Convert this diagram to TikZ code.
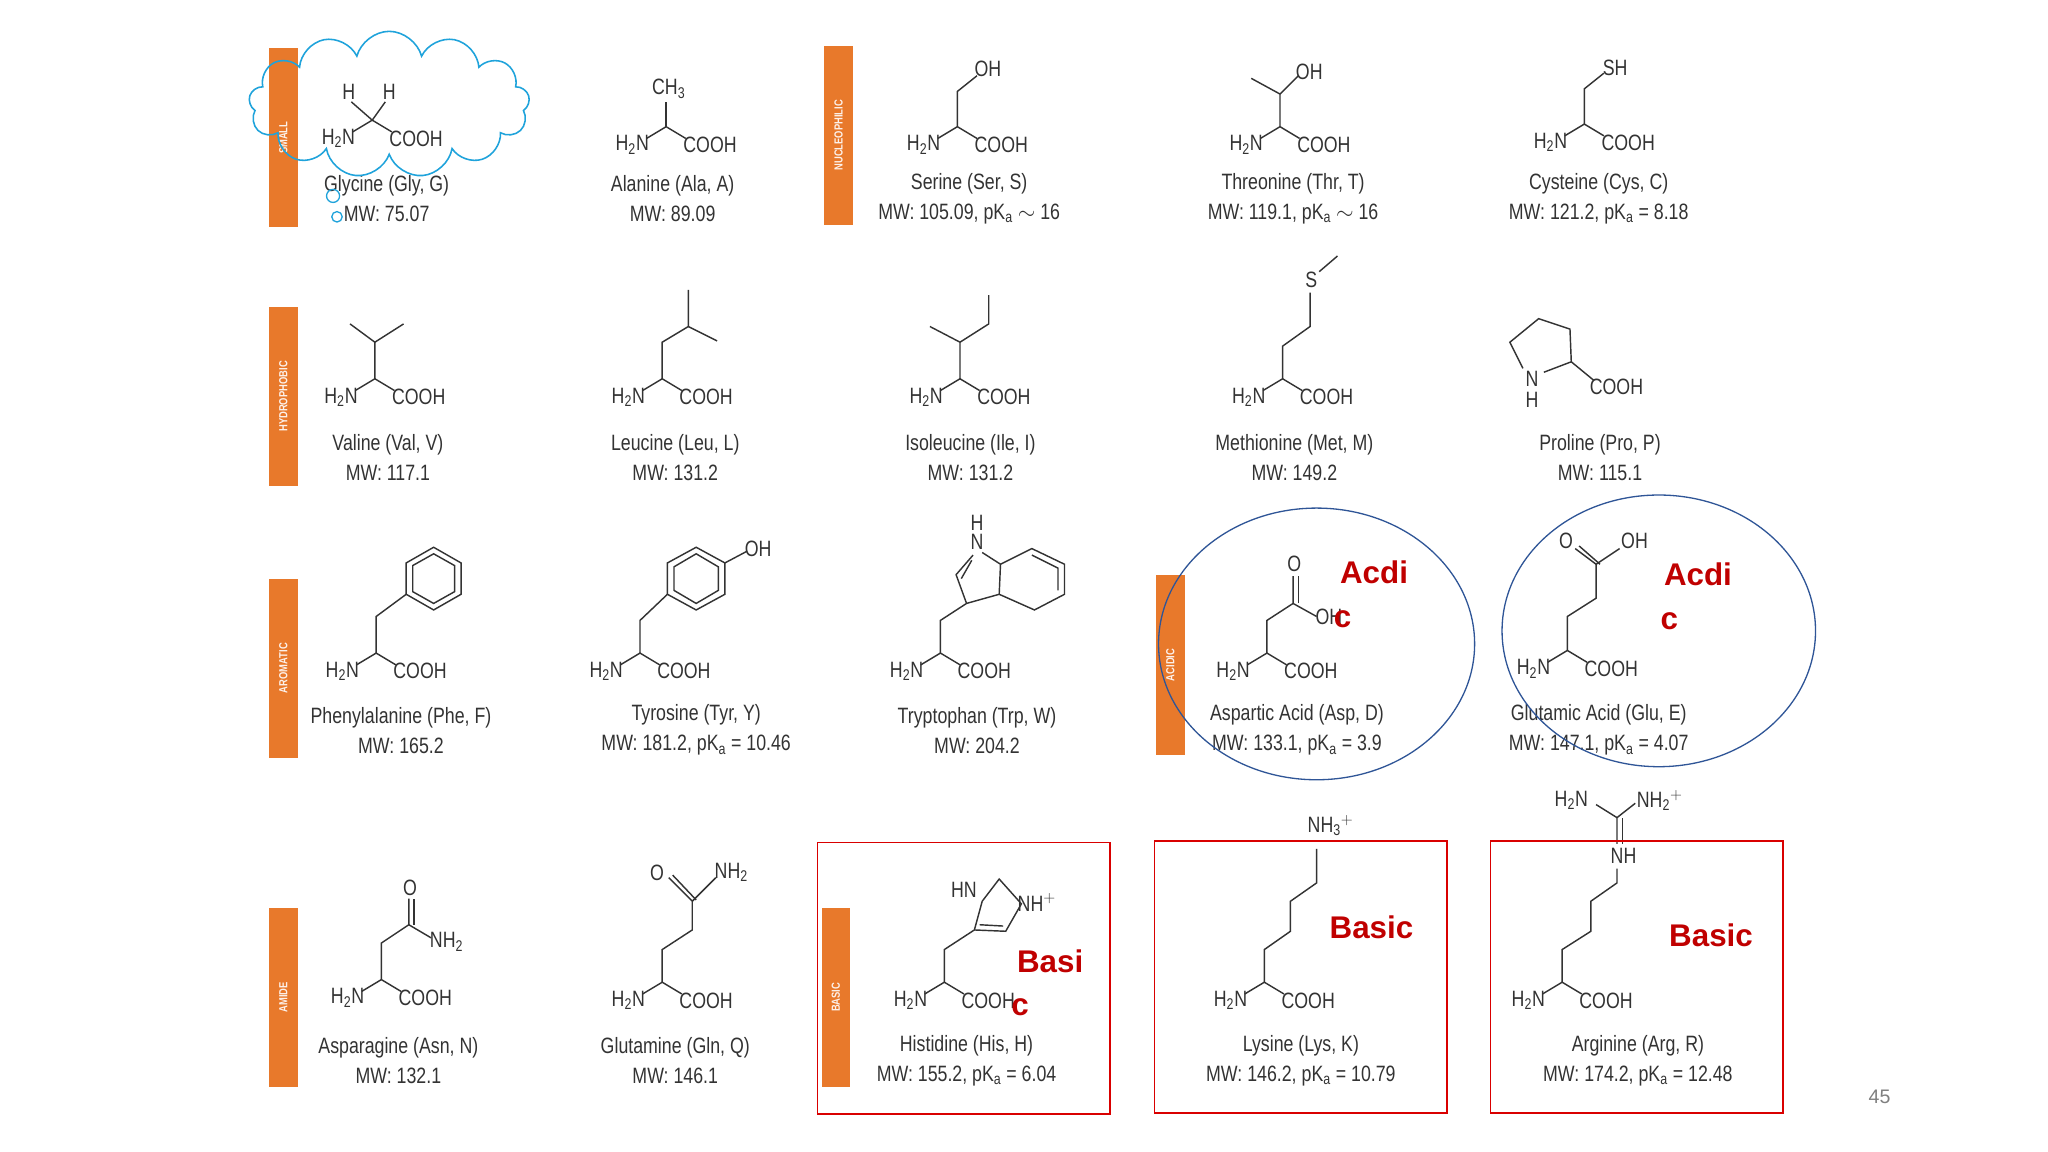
\documentclass[tikz,border=0pt]{standalone}
\usepackage{fontspec}
\setmainfont{Liberation Sans}
\newfontfamily\cond[FakeStretch=0.8]{Liberation Sans}
\usetikzlibrary{shapes.symbols}
\definecolor{org}{HTML}{E8792B}
\definecolor{dred}{HTML}{C00000}
\definecolor{navy}{HTML}{2F5597}
\definecolor{cyn}{HTML}{1FA3DB}
\definecolor{ink}{HTML}{333333}
\tikzset{
 lab/.style={font=\cond\fontsize{17}{17}\selectfont,text=ink,inner sep=1pt},
 captxt/.style={font=\cond\fontsize{17}{23}\selectfont,text=ink,align=center,inner sep=0pt},
 bond/.style={draw=ink,line width=1.1pt},
 bartxt/.style={font=\cond\bfseries\fontsize{9}{9}\selectfont,text=white!90!org,rotate=90},
 redbox/.style={draw=red!85!black,line width=1.2pt},
 tag/.style={font=\bfseries\fontsize{24}{28}\selectfont,text=dred,align=left,inner sep=0pt},
}
\newcommand\pka{pK\textsubscript{a}}
\newcommand\bb[2]{%
 \node[lab,anchor=east] at ({#1-12},{#2+14}) {H\textsubscript{2}N};
 \node[lab,anchor=west] at ({#1+12},{#2+14}) {COOH};
 \draw[bond] ({#1-15},{#2+9})--(#1,#2)--({#1+15},{#2+9});}
\begin{document}
\begin{tikzpicture}[x=1pt,y=-1pt]
\useasboundingbox[fill=white] (0,0) rectangle (1568,882);
% bars
\foreach \x/\a/\b/\t in {206/37/174/SMALL,206/235/372/HYDROPHOBIC,206/443/580/AROMATIC,206/695/832/AMIDE,631/35/172/NUCLEOPHILIC,885/440/578/ACIDIC,629/695/832/BASIC}
 {\fill[org] (\x,\a) rectangle ({\x+22},\b);
  \node[bartxt] at ({\x+11},{(\a+\b)/2}) {\t};}
% ===== Row 1
\node[lab] at (267,70) {H}; \node[lab] at (298,70) {H};
\draw[bond] (269,78)--(285,92)--(295,78);
\bb{285}{92}
\node[captxt] at (296,152) {Glycine (Gly, G)\\MW: 75.07};
\bb{510}{97}\draw[bond] (510,97)--(510,78); \node[lab] at (512,68) {CH\textsubscript{3}};
\node[captxt] at (515,152) {Alanine (Ala, A)\\MW: 89.09};
\bb{733}{97}\draw[bond] (733,97)--(733,70)--(748,58); \node[lab,anchor=west] at (745,53) {OH};
\node[captxt] at (742,152) {Serine (Ser, S)\\MW: 105.09, \pka{} $\sim$ 16};
\bb{980}{97}\draw[bond] (980,97)--(980,72)--(958,60); \draw[bond] (980,72)--(994,58); \node[lab,anchor=west] at (991,55) {OH};
\node[captxt] at (990,152) {Threonine (Thr, T)\\MW: 119.1, \pka{} $\sim$ 16};
\bb{1213}{95}\draw[bond] (1213,95)--(1213,68)--(1228,56); \node[lab,anchor=west] at (1226,52) {SH};
\node[captxt] at (1224,152) {Cysteine (Cys, C)\\MW: 121.2, \pka{} = 8.18};
% cloud
\node[cloud,draw=cyn,line width=1.2pt,cloud puffs=13,minimum width=215pt,minimum height=112pt] (cl) at (298,80) {};
\draw[cyn,line width=1pt] (255,150) circle (5) (258,166) circle (4);
% ===== Row 2
\bb{287}{290}\draw[bond] (287,290)--(287,262)--(268,248); \draw[bond] (287,262)--(309,248);
\node[captxt] at (297,350) {Valine (Val, V)\\MW: 117.1};
\bb{507}{290}\draw[bond] (507,290)--(507,262)--(527,250)--(527,222); \draw[bond] (527,250)--(549,261);
\node[captxt] at (517,350) {Leucine (Leu, L)\\MW: 131.2};
\bb{735}{290}\draw[bond] (735,290)--(735,262)--(712,250); \draw[bond] (735,262)--(757,248)--(757,226);
\node[captxt] at (743,350) {Isoleucine (Ile, I)\\MW: 131.2};
\bb{982}{290}\draw[bond] (982,290)--(982,265)--(1003,250)--(1003,224); \node[lab] at (1004,214) {S}; \draw[bond] (1010,208)--(1024,196);
\node[captxt] at (991,350) {Methionine (Met, M)\\MW: 149.2};
\draw[bond] (1166,282)--(1156,262)--(1178,244)--(1202,252)--(1203,277)--(1182,285);
\node[lab] at (1173,290) {N}; \node[lab] at (1173,306) {H};
\draw[bond] (1203,277)--(1220,291); \node[lab,anchor=west] at (1216,296) {COOH};
\node[captxt] at (1225,350) {Proline (Pro, P)\\MW: 115.1};
% ===== Row 3
\bb{288}{500}\draw[bond] (288,500)--(288,472)--(311,455);
\draw[bond] (332,419)--(353,431)--(353,455)--(332,467)--(311,455)--(311,431)--cycle;
\draw[bond] (332,424)--(348,433)--(348,453)--(332,462)--(316,453)--(316,433)--cycle;
\node[captxt] at (307,559) {Phenylalanine (Phe, F)\\MW: 165.2};
\bb{490}{500}\draw[bond] (490,500)--(490,475)--(511,455);
\draw[bond] (533,419)--(555,431)--(555,455)--(533,467)--(511,455)--(511,431)--cycle;
\draw[bond] (533,424)--(550,434)--(550,452)--(533,462)--(516,452)--(516,434)--cycle;
\draw[bond] (555,431)--(572,422); \node[lab,anchor=west] at (569,420) {OH};
\node[captxt] at (533,559) {Tyrosine (Tyr, Y)\\MW: 181.2, \pka{} = 10.46};
\bb{720}{500}\draw[bond] (720,500)--(720,475)--(740,462)--(732,440)--(745,425);
\draw[bond] (740,462)--(765,455)--(766,432)--(752,423);
\node[lab] at (748,400) {H}; \node[lab] at (748,415) {N};
\draw[bond] (766,432)--(790,420)--(815,432)--(815,455)--(792,467)--(765,455);
\draw[bond] (790,425)--(810,435)--(810,452) (736,443)--(744,429);
\node[captxt] at (748,559) {Tryptophan (Trp, W)\\MW: 204.2};
\bb{970}{500}\draw[bond] (970,500)--(970,475)--(990,462)--(990,441); \draw[bond] (994,462)--(994,441); \draw[bond] (990,462)--(1008,472);
\node[lab] at (991,432) {O}; \node[lab,anchor=west] at (1006,472) {OH};
\node[captxt] at (993,559) {Aspartic Acid (Asp, D)\\MW: 133.1, \pka{} = 3.9};
\bb{1200}{498}\draw[bond] (1200,498)--(1200,472)--(1222,458)--(1222,432)--(1206,420); \draw[bond] (1225,432)--(1209,418); \draw[bond] (1222,432)--(1240,420);
\node[lab] at (1199,414) {O}; \node[lab,anchor=west] at (1240,414) {OH};
\node[captxt] at (1224,559) {Glutamic Acid (Glu, E)\\MW: 147.1, \pka{} = 4.07};
% ===== Row 4
\bb{292}{750}\draw[bond] (292,750)--(292,722)--(313,708)--(313,688); \draw[bond] (317,708)--(317,688); \draw[bond] (313,708)--(330,718);
\node[lab] at (314,680) {O}; \node[lab,anchor=west] at (328,721) {NH\textsubscript{2}};
\node[captxt] at (305,812) {Asparagine (Asn, N)\\MW: 132.1};
\bb{507}{752}\draw[bond] (507,752)--(507,727)--(530,712)--(530,690)--(512,672); \draw[bond] (533,689)--(515,670); \draw[bond] (530,690)--(548,672);
\node[lab] at (503,668) {O}; \node[lab,anchor=west] at (546,668) {NH\textsubscript{2}};
\node[captxt] at (517,812) {Glutamine (Gln, Q)\\MW: 146.1};
\bb{723}{752}\draw[bond] (723,752)--(723,727)--(746,712)--(752,690); \draw[bond] (746,712)--(770,713)--(782,692)--(765,673)--(752,690);
\draw[bond] (750,708)--(768,709);
\node[lab] at (738,681) {HN}; \node[lab,anchor=west] at (778,691) {NH$^+$};
\node[captxt] at (740,812) {Histidine (His, H)\\MW: 155.2, \pka{} = 6.04};
\bb{968}{752}\draw[bond] (968,752)--(968,727)--(988,713)--(988,690)--(1008,676)--(1008,650);
\node[lab,anchor=west] at (1000,632) {NH\textsubscript{3}$^+$};
\node[captxt] at (996,812) {Lysine (Lys, K)\\MW: 146.2, \pka{} = 10.79};
\bb{1196}{752}\draw[bond] (1196,752)--(1196,727)--(1218,713)--(1218,690)--(1238,676)--(1238,665);
\node[lab] at (1243,655) {NH}; \draw[bond] (1238,646)--(1238,626)--(1222,616); \draw[bond] (1242,646)--(1242,626); \draw[bond] (1238,626)--(1252,615);
\node[lab] at (1203,613) {H\textsubscript{2}N}; \node[lab,anchor=west] at (1252,613) {NH\textsubscript{2}$^+$};
\node[captxt] at (1254,812) {Arginine (Arg, R)\\MW: 174.2, \pka{} = 12.48};
% annotations
\draw[navy,line width=1pt] (1008,493) ellipse (121 and 104);
\draw[navy,line width=1pt] (1270,483) ellipse (120 and 104);
\node[tag] at (1052,438) {Acdi}; \node[tag] at (1028,474) {c};
\node[tag] at (1300,440) {Acdi}; \node[tag] at (1278,476) {c};
\draw[redbox] (626,645) rectangle (850,853);
\draw[redbox] (884,644) rectangle (1108,852);
\draw[redbox] (1141,644) rectangle (1365,852);
\node[tag] at (804,736) {Basi}; \node[tag] at (781,771) {c};
\node[tag] at (1050,710) {Basic};
\node[tag] at (1310,716) {Basic};
\node[font=\fontsize{15}{15}\selectfont,text=gray] at (1439,840) {45};
\end{tikzpicture}
\end{document}
